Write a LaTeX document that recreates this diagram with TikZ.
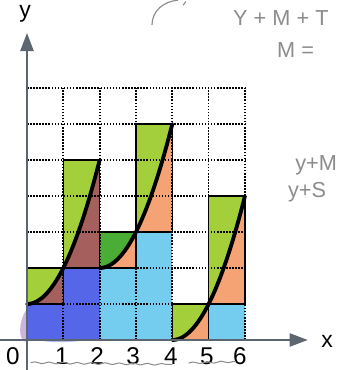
\documentclass[tikz,border=0pt]{standalone}
\usepackage{fontspec}
\setmainfont{Liberation Sans}
\usetikzlibrary{arrows.meta,decorations.pathmorphing}
\definecolor{lime}{HTML}{A2CF3A}
\definecolor{dgreen}{HTML}{4AAE36}
\definecolor{brownish}{HTML}{A5605E}
\definecolor{orangish}{HTML}{F5A274}
\definecolor{lblue}{HTML}{74CDEE}
\definecolor{dblue}{HTML}{5566E8}
\definecolor{axiscol}{HTML}{5C6670}
\definecolor{pencil}{HTML}{8C8C8C}
\tikzset{
  gridline/.style={black, line width=1.35pt, dash pattern=on 1.2pt off 1.2pt},
  stepoutline/.style={black, line width=1.1pt},
  curveline/.style={black, line width=3pt, line cap=round},
  axisline/.style={axiscol, line width=1.7pt, -{Triangle[length=0.5cm,width=0.36cm]}},
  ticklabel/.style={font=\fontsize{19}{20}\selectfont, inner sep=0pt},
  axislabel/.style={font=\fontsize{18}{20}\selectfont, inner sep=0pt},
  handwriting/.style={pencil, font=\fontsize{17}{19}\selectfont, inner sep=0pt, anchor=west},
}
\begin{document}
\begin{tikzpicture}[x=1cm, y=0.991cm]
\useasboundingbox (-0.743cm,-0.826cm) rectangle (8.506cm,9.359cm);
\begin{scope}
\clip (-0.743cm,-0.826cm) rectangle (8.506cm,9.359cm);
% blue areas
\fill[dblue] (0,0) rectangle (2,1);
\fill[dblue] (1,1) rectangle (2,2);
\fill[violet!60!dblue, opacity=0.35] (-0.18,0.15) .. controls (-0.22,0.45) and (-0.1,0.75) .. (0,0.85) -- (0,-0.05) .. controls (-0.12,-0.03) .. cycle;
\fill[dblue, opacity=0.45] (0.3,0) -- (1.6,0) .. controls (1.2,-0.08) and (0.6,-0.08) .. cycle;
\fill[lblue] (2,0) rectangle (4,2);
\fill[lblue] (3,2) rectangle (4,3);
\fill[lblue] (5,0) rectangle (6,1);
% segment 1 : y = 1 + x^2
\fill[lime] plot[domain=0:1, samples=30] (\x,{1+\x*\x}) -- (0,2) -- cycle;
\fill[brownish] plot[domain=0:1, samples=30] (\x,{1+\x*\x}) -- (1,1) -- cycle;
\fill[lime] plot[domain=1:2, samples=30] (\x,{1+\x*\x}) -- (1,5) -- cycle;
\fill[brownish] plot[domain=1:2, samples=30] (\x,{1+\x*\x}) -- (2,2) -- cycle;
% segment 2 : y = 2 + (x-2)^2
\begin{scope}[shift={(2,1)}]
\fill[dgreen] plot[domain=0:1, samples=30] (\x,{1+\x*\x}) -- (0,2) -- cycle;
\fill[orangish] plot[domain=0:1, samples=30] (\x,{1+\x*\x}) -- (1,1) -- cycle;
\fill[lime] plot[domain=1:2, samples=30] (\x,{1+\x*\x}) -- (1,5) -- cycle;
\fill[orangish] plot[domain=1:2, samples=30] (\x,{1+\x*\x}) -- (2,2) -- cycle;
\end{scope}
% segment 3 : y = (x-4)^2
\begin{scope}[shift={(4,-1)}]
\fill[lime] plot[domain=0:1, samples=30] (\x,{1+\x*\x}) -- (0,2) -- cycle;
\fill[orangish] plot[domain=0:1, samples=30] (\x,{1+\x*\x}) -- (1,1) -- cycle;
\fill[lime] plot[domain=1:2, samples=30] (\x,{1+\x*\x}) -- (1,5) -- cycle;
\fill[orangish] plot[domain=1:2, samples=30] (\x,{1+\x*\x}) -- (2,2) -- cycle;
\end{scope}
% dotted grid
\foreach \i in {1,...,6} \draw[gridline] (\i,0) -- (\i,7);
\foreach \j in {1,...,7} \draw[gridline] (0,\j) -- (6,\j);
% step outlines
\draw[stepoutline] (0,1) rectangle (1,2);
\draw[stepoutline] (1,2) rectangle (2,5);
\draw[stepoutline] (2,2) rectangle (3,3);
\draw[stepoutline] (3,3) rectangle (4,6);
\draw[stepoutline] (4,0) rectangle (5,1);
\draw[stepoutline] (5,1) rectangle (6,4);
% curves
\draw[curveline] plot[domain=0:2, samples=50] (\x,{1+\x*\x});
\draw[curveline] plot[domain=2:4, samples=50] (\x,{2+(\x-2)*(\x-2)});
\draw[curveline] plot[domain=4:6, samples=50] (\x,{(\x-4)*(\x-4)});
% axes
\coordinate (xstart) at (-0.8,0);
\coordinate (xend) at (7.73,0);
\coordinate (ystart) at (0,-0.9);
\coordinate (yend) at (0,8.53);
\draw[axisline] (xstart) -- (xend);
\draw[axisline] (ystart) -- (yend);
\node[axislabel] (ylab) at (-0.05,9.05) {y};
\node[axislabel] (xlab) at (8.26,-0.03) {x};
\node[ticklabel] (t0) at (-0.39,-0.44) {0};
\node[ticklabel] (t1) at (0.96,-0.44) {1};
\node[ticklabel] (t2) at (1.93,-0.44) {2};
\node[ticklabel] (t3) at (2.92,-0.44) {3};
\node[ticklabel] (t4) at (3.96,-0.44) {4};
\node[ticklabel] (t5) at (4.95,-0.44) {5};
\node[ticklabel] (t6) at (5.86,-0.44) {6};
% pencil notes
\draw[pencil, line width=0.8pt, decorate, decoration={snake, amplitude=0.7pt, segment length=11pt}] (0.1,-0.63) -- (4.0,-0.68);
\draw[pencil, line width=0.8pt, decorate, decoration={snake, amplitude=0.7pt, segment length=11pt}] (4.45,-0.64) -- (5.75,-0.6);
\draw[pencil, line width=0.9pt] (3.44,8.75) .. controls (3.45,9.15) and (3.75,9.4) .. (4.16,9.44);
\draw[pencil, line width=0.9pt] (4.3,9.3) -- (4.37,9.4);
\node[handwriting] (n1) at (5.67,8.94) {Y + M + T};
\node[handwriting] (n2) at (6.88,8.06) {M =};
\node[handwriting] (n3) at (7.38,4.86) {y+M};
\node[handwriting] (n4) at (7.18,4.1) {y+S};
\end{scope}
\end{tikzpicture}
\end{document}
